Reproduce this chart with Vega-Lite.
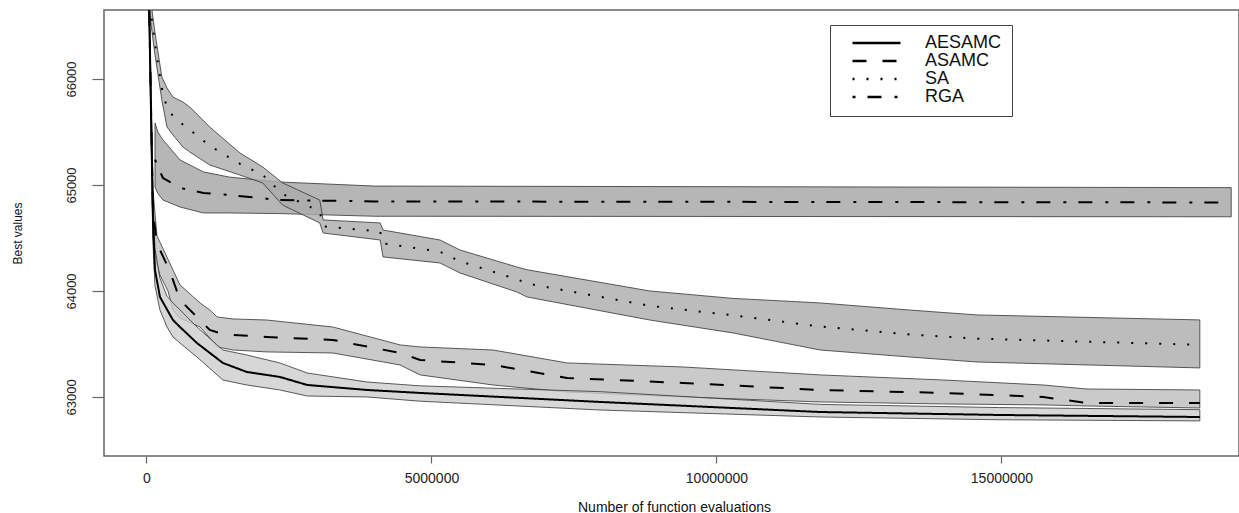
{
  "$schema": "https://vega.github.io/schema/vega-lite/v6.json",
  "width": 1135,
  "height": 446,
  "autosize": "none",
  "padding": {"left": 104, "top": 10, "right": 0, "bottom": 57},
  "background": "white",
  "config": {
    "font": "Liberation Sans",
    "view": {"stroke": "#666", "strokeWidth": 1.5},
    "axis": {"grid": false, "domain": false, "tickColor": "#666", "tickWidth": 1.2, "labelColor": "#222", "titleColor": "#111", "titleFontWeight": "normal"}
  },
  "data": {
    "values": [
      {"s": "AESAMC", "x": 30000, "lo": 67100, "hi": 67300, "m": 67200},
      {"s": "AESAMC", "x": 114000, "lo": 64450, "hi": 64900, "m": 64670},
      {"s": "AESAMC", "x": 149000, "lo": 64050, "hi": 64400, "m": 64198},
      {"s": "AESAMC", "x": 237000, "lo": 63820, "hi": 64120, "m": 63943},
      {"s": "AESAMC", "x": 360000, "lo": 63660, "hi": 63950, "m": 63826},
      {"s": "AESAMC", "x": 465000, "lo": 63566, "hi": 63887, "m": 63726},
      {"s": "AESAMC", "x": 588000, "lo": 63509, "hi": 63821, "m": 63660},
      {"s": "AESAMC", "x": 886000, "lo": 63377, "hi": 63660, "m": 63509},
      {"s": "AESAMC", "x": 1340000, "lo": 63160, "hi": 63443, "m": 63321},
      {"s": "AESAMC", "x": 1760000, "lo": 63113, "hi": 63396, "m": 63236},
      {"s": "AESAMC", "x": 2340000, "lo": 63066, "hi": 63321, "m": 63189},
      {"s": "AESAMC", "x": 2820000, "lo": 63009, "hi": 63226, "m": 63113},
      {"s": "AESAMC", "x": 3870000, "lo": 63000, "hi": 63141, "m": 63066},
      {"s": "AESAMC", "x": 4800000, "lo": 62960, "hi": 63105, "m": 63038},
      {"s": "AESAMC", "x": 7960000, "lo": 62877, "hi": 63050, "m": 62953},
      {"s": "AESAMC", "x": 11820000, "lo": 62811, "hi": 62930, "m": 62858},
      {"s": "AESAMC", "x": 14970000, "lo": 62785, "hi": 62900, "m": 62830},
      {"s": "AESAMC", "x": 18480000, "lo": 62774, "hi": 62880, "m": 62811},

      {"s": "ASAMC", "x": 30000, "lo": 67100, "hi": 67300, "m": 67200},
      {"s": "ASAMC", "x": 114000, "lo": 64500, "hi": 64950, "m": 64750},
      {"s": "ASAMC", "x": 184000, "lo": 64250, "hi": 64520, "m": 64440},
      {"s": "ASAMC", "x": 237000, "lo": 64150, "hi": 64460, "m": 64387},
      {"s": "ASAMC", "x": 377000, "lo": 64000, "hi": 64300, "m": 64226},
      {"s": "ASAMC", "x": 465000, "lo": 63820, "hi": 64198, "m": 64104},
      {"s": "ASAMC", "x": 588000, "lo": 63745, "hi": 64057, "m": 63915},
      {"s": "ASAMC", "x": 940000, "lo": 63660, "hi": 63887, "m": 63726},
      {"s": "ASAMC", "x": 1110000, "lo": 63557, "hi": 63821, "m": 63632},
      {"s": "ASAMC", "x": 1240000, "lo": 63472, "hi": 63755, "m": 63610},
      {"s": "ASAMC", "x": 1520000, "lo": 63443, "hi": 63736, "m": 63585},
      {"s": "ASAMC", "x": 2110000, "lo": 63425, "hi": 63726, "m": 63566},
      {"s": "ASAMC", "x": 3270000, "lo": 63415, "hi": 63660, "m": 63538},
      {"s": "ASAMC", "x": 4450000, "lo": 63302, "hi": 63491, "m": 63415},
      {"s": "ASAMC", "x": 4800000, "lo": 63208, "hi": 63472, "m": 63349},
      {"s": "ASAMC", "x": 6080000, "lo": 63113, "hi": 63443, "m": 63302},
      {"s": "ASAMC", "x": 7380000, "lo": 63047, "hi": 63321, "m": 63179},
      {"s": "ASAMC", "x": 9410000, "lo": 63000, "hi": 63283, "m": 63132},
      {"s": "ASAMC", "x": 11820000, "lo": 62953, "hi": 63208, "m": 63066},
      {"s": "ASAMC", "x": 13980000, "lo": 62934, "hi": 63160, "m": 63038},
      {"s": "ASAMC", "x": 15730000, "lo": 62925, "hi": 63113, "m": 63000},
      {"s": "ASAMC", "x": 16500000, "lo": 62915, "hi": 63075, "m": 62943},
      {"s": "ASAMC", "x": 18480000, "lo": 62896, "hi": 63066, "m": 62943},

      {"s": "SA", "x": 60000, "lo": 66600, "hi": 66800, "m": 66700},
      {"s": "SA", "x": 150000, "lo": 66226, "hi": 66434, "m": 66330},
      {"s": "SA", "x": 270000, "lo": 65802, "hi": 66019, "m": 65910},
      {"s": "SA", "x": 360000, "lo": 65547, "hi": 65915, "m": 65730},
      {"s": "SA", "x": 465000, "lo": 65472, "hi": 65830, "m": 65650},
      {"s": "SA", "x": 640000, "lo": 65358, "hi": 65783, "m": 65570},
      {"s": "SA", "x": 760000, "lo": 65311, "hi": 65736, "m": 65520},
      {"s": "SA", "x": 1110000, "lo": 65189, "hi": 65547, "m": 65370},
      {"s": "SA", "x": 1640000, "lo": 65094, "hi": 65302, "m": 65200},
      {"s": "SA", "x": 2040000, "lo": 65019, "hi": 65170, "m": 65095},
      {"s": "SA", "x": 2390000, "lo": 64810, "hi": 65019, "m": 64915},
      {"s": "SA", "x": 3040000, "lo": 64642, "hi": 64858, "m": 64750},
      {"s": "SA", "x": 3100000, "lo": 64547, "hi": 64670, "m": 64610},
      {"s": "SA", "x": 4100000, "lo": 64481, "hi": 64642, "m": 64560},
      {"s": "SA", "x": 4150000, "lo": 64321, "hi": 64575, "m": 64450},
      {"s": "SA", "x": 5150000, "lo": 64264, "hi": 64481, "m": 64370},
      {"s": "SA", "x": 5500000, "lo": 64170, "hi": 64387, "m": 64280},
      {"s": "SA", "x": 6500000, "lo": 63990, "hi": 64226, "m": 64110},
      {"s": "SA", "x": 6680000, "lo": 63943, "hi": 64200, "m": 64070},
      {"s": "SA", "x": 8830000, "lo": 63726, "hi": 64000, "m": 63860},
      {"s": "SA", "x": 10290000, "lo": 63604, "hi": 63930, "m": 63770},
      {"s": "SA", "x": 11820000, "lo": 63443, "hi": 63887, "m": 63665},
      {"s": "SA", "x": 13390000, "lo": 63377, "hi": 63820, "m": 63590},
      {"s": "SA", "x": 14570000, "lo": 63330, "hi": 63774, "m": 63550},
      {"s": "SA", "x": 18480000, "lo": 63274, "hi": 63727, "m": 63492},

      {"s": "RGA", "x": 150000, "lo": 64981, "hi": 65585, "m": 65240},
      {"s": "RGA", "x": 200000, "lo": 64920, "hi": 65500, "m": 65170},
      {"s": "RGA", "x": 290000, "lo": 64858, "hi": 65425, "m": 65066},
      {"s": "RGA", "x": 590000, "lo": 64792, "hi": 65236, "m": 64972},
      {"s": "RGA", "x": 1000000, "lo": 64736, "hi": 65123, "m": 64925},
      {"s": "RGA", "x": 1450000, "lo": 64736, "hi": 65075, "m": 64906},
      {"s": "RGA", "x": 2340000, "lo": 64730, "hi": 65028, "m": 64858},
      {"s": "RGA", "x": 4000000, "lo": 64705, "hi": 64990, "m": 64845},
      {"s": "RGA", "x": 19030000, "lo": 64700, "hi": 64975, "m": 64835}
    ]
  },
  "encoding": {
    "x": {"field": "x", "type": "quantitative", "scale": {"domain": [-745000, 19167000], "nice": false, "zero": false},
          "axis": {"values": [0, 5000000, 10000000, 15000000], "format": "d", "tickSize": 7, "labelFontSize": 14, "labelPadding": 8, "title": "Number of function evaluations", "titleFontSize": 14, "titleX": 570, "titleY": 51, "titleBaseline": "middle", "titleAlign": "center"}}
  },
  "layer": [
    {
      "transform": [{"filter": "datum.s == 'RGA'"}],
      "mark": {"type": "area", "clip": true, "stroke": "#333", "strokeWidth": 0.8, "fill": "#a4a4a4", "fillOpacity": 0.8},
      "encoding": {
        "y": {"field": "lo", "type": "quantitative", "scale": {"domain": [62443, 66651], "nice": false, "zero": false},
              "axis": {"values": [63000, 64000, 65000, 66000], "format": "d", "tickSize": 12, "labelAngle": -90, "labelAlign": "center", "labelBaseline": "bottom", "labelFontSize": 13, "labelPadding": 14, "title": "Best values", "titleFontSize": 12, "titleAngle": -90, "titleX": -87, "titleY": 223, "titleAlign": "center", "titleBaseline": "middle"}},
        "y2": {"field": "hi"}
      }
    },
    {
      "transform": [{"filter": "datum.s == 'SA'"}],
      "mark": {"type": "area", "clip": true, "stroke": "#333", "strokeWidth": 0.8, "fill": "#ababab", "fillOpacity": 0.8},
      "encoding": {"y": {"field": "lo", "type": "quantitative"}, "y2": {"field": "hi"}}
    },
    {
      "transform": [{"filter": "datum.s == 'ASAMC'"}],
      "mark": {"type": "area", "clip": true, "stroke": "#333", "strokeWidth": 0.8, "fill": "#bdbdbd", "fillOpacity": 0.8},
      "encoding": {"y": {"field": "lo", "type": "quantitative"}, "y2": {"field": "hi"}}
    },
    {
      "transform": [{"filter": "datum.s == 'AESAMC'"}],
      "mark": {"type": "area", "clip": true, "stroke": "#333", "strokeWidth": 0.8, "fill": "#cdcdcd", "fillOpacity": 0.8},
      "encoding": {"y": {"field": "lo", "type": "quantitative"}, "y2": {"field": "hi"}}
    },
    {
      "mark": {"type": "line", "clip": true, "color": "black", "strokeWidth": 2},
      "encoding": {
        "y": {"field": "m", "type": "quantitative"},
        "strokeDash": {"field": "s", "type": "nominal",
          "scale": {"domain": ["AESAMC", "ASAMC", "SA", "RGA"], "range": [[1, 0], [14, 16], [2, 12], [3, 12, 14, 13]]},
          "legend": {"title": null, "orient": "none", "legendX": 726, "legendY": 15, "symbolType": "stroke", "symbolSize": 2304, "symbolStrokeWidth": 2.5, "symbolStrokeColor": "black", "symbolOffset": 11, "labelFontSize": 18, "labelColor": "#111", "labelOffset": 23, "strokeColor": "#444", "padding": 10, "clipHeight": 16, "rowPadding": 0, "fillColor": "white"}}
      }
    }
  ]
}
